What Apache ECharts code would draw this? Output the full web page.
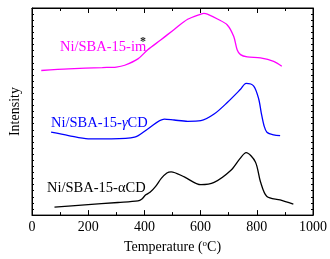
<!DOCTYPE html>
<html><head><meta charset="utf-8">
<script src="https://cdn.jsdelivr.net/npm/echarts@6/dist/echarts.min.js"></script>
<style>html,body{margin:0;padding:0;background:#fff}#c{width:330px;height:259px}</style>
</head><body><div id="c"></div>
<script>
var xTicks = [0, 200, 400, 600, 800, 1000];
var tempIm = [33,130,250,300,330,377,412,459,506,554,601,612,624,660,695,718,730,742,766,813,860,889];
var valIm  = [146,147.7,149,149.5,151.3,157.7,167,177,187.5,197.7,203,203.7,203,198,192,180.3,167,162,159.7,158.7,155.3,150.3];
var tempG = [68,130,200,283,365,412,471,506,554,601,648,695,742,762,789,807,816,826,836,860,883];
var valG  = [83.7,80.3,77,77,78.7,87,97,96,94.7,95.3,102,113.7,127,133,130.3,117,103,90,83.7,81,80.3];
var tempA = [80,188,306,377,390,405,420,440,460,480,495,542,601,648,707,740,762,795,813,836,883,930];
var valA  = [8,10.3,12.7,14.3,16,20.5,23,29,37,42.5,43.7,38.5,30.7,33,45,57,63,53.7,33.7,18.7,15.3,11];
var labelIm = 'Ni/SBA-15-im', labelG = 'Ni/SBA-15-', labelA = 'Ni/SBA-15-\u03b1CD';

function pairs(xs, ys){ return xs.map(function(x,i){ return [x, ys[i]]; }); }
var FONT = '"Liberation Serif","Times New Roman",serif';
var chart = echarts.init(document.getElementById('c'));
var yInt = 6.15, yMax = 34 * 6.15;
function xAx(pos, extra){
  return Object.assign({type:'value', min:0, max:1000, interval:200, position:pos,
    axisLine:{show:true, onZero:false, lineStyle:{color:'#000', width:1}}, splitLine:{show:false},
    axisTick:{show:true, inside:true, length:5, lineStyle:{color:'#000'}},
    minorTick:{show:true, splitNumber:2, length:3, lineStyle:{color:'#000'}}}, extra);
}
function yAx(pos, extra){
  return Object.assign({type:'value', min:0, max:yMax, interval:yInt, position:pos,
    axisLine:{show:true, onZero:false, lineStyle:{color:'#000', width:1}}, splitLine:{show:false},
    axisTick:{show:true, inside:true, length:2, lineStyle:{color:'#000'}}, axisLabel:{show:false}}, extra);
}
chart.setOption({
  animation:false,
  grid:{left:30, right:17, top:8, bottom:42, show:true, borderColor:'#000', borderWidth:1, backgroundColor:'transparent'},
  xAxis:[
    xAx('bottom', {
      axisLabel:{margin:5, color:'#000', fontFamily:FONT, fontSize:14,
        formatter:function(v){ return xTicks.indexOf(v) >= 0 ? String(v) : ''; }},
      name:'{a|Temperature (}{s|o}{a|C)}', nameLocation:'middle', nameGap:22,
      nameTextStyle:{rich:{a:{fontFamily:FONT, fontSize:14, color:'#000'}, s:{fontFamily:FONT, fontSize:9, color:'#000', padding:[0,0,7,0]}}}}),
    xAx('top', {axisLabel:{show:false}})
  ],
  yAxis:[
    yAx('left', {name:'Intensity', nameLocation:'middle', nameGap:10,
      nameTextStyle:{fontFamily:FONT, fontSize:14, color:'#000'}}),
    yAx('right', {})
  ],
  series:[
    {type:'line', data:pairs(tempIm, valIm), smooth:0.3, symbol:'none', lineStyle:{color:'#ff00ff', width:1.3}},
    {type:'line', data:pairs(tempG, valG), smooth:0.3, symbol:'none', lineStyle:{color:'#0000ff', width:1.3}},
    {type:'line', data:pairs(tempA, valA), smooth:0.3, symbol:'none', lineStyle:{color:'#000', width:1.3}},
    {type:'line', data:pairs(tempA, valA), xAxisIndex:1, yAxisIndex:1, symbol:'none', silent:true, lineStyle:{opacity:0}}
  ],
  graphic:[
    {type:'text', left:60, top:40, style:{text:labelIm, fill:'#ff00ff', font:'14.5px '+FONT}},
    {type:'text', left:140, top:36, style:{text:'*', fill:'#222', font:'bold 12px '+FONT}},
    {type:'text', left:51, top:116, style:{text:'{a|'+labelG+'}{i|\u03b3}{a|CD}', rich:{a:{fill:'#0000ff', font:'14.5px '+FONT}, i:{fill:'#0000ff', font:'italic 14.5px '+FONT}}}},
    {type:'text', left:47, top:181, style:{text:labelA, fill:'#000', font:'14.5px '+FONT}}
  ]
});
</script></body></html>
